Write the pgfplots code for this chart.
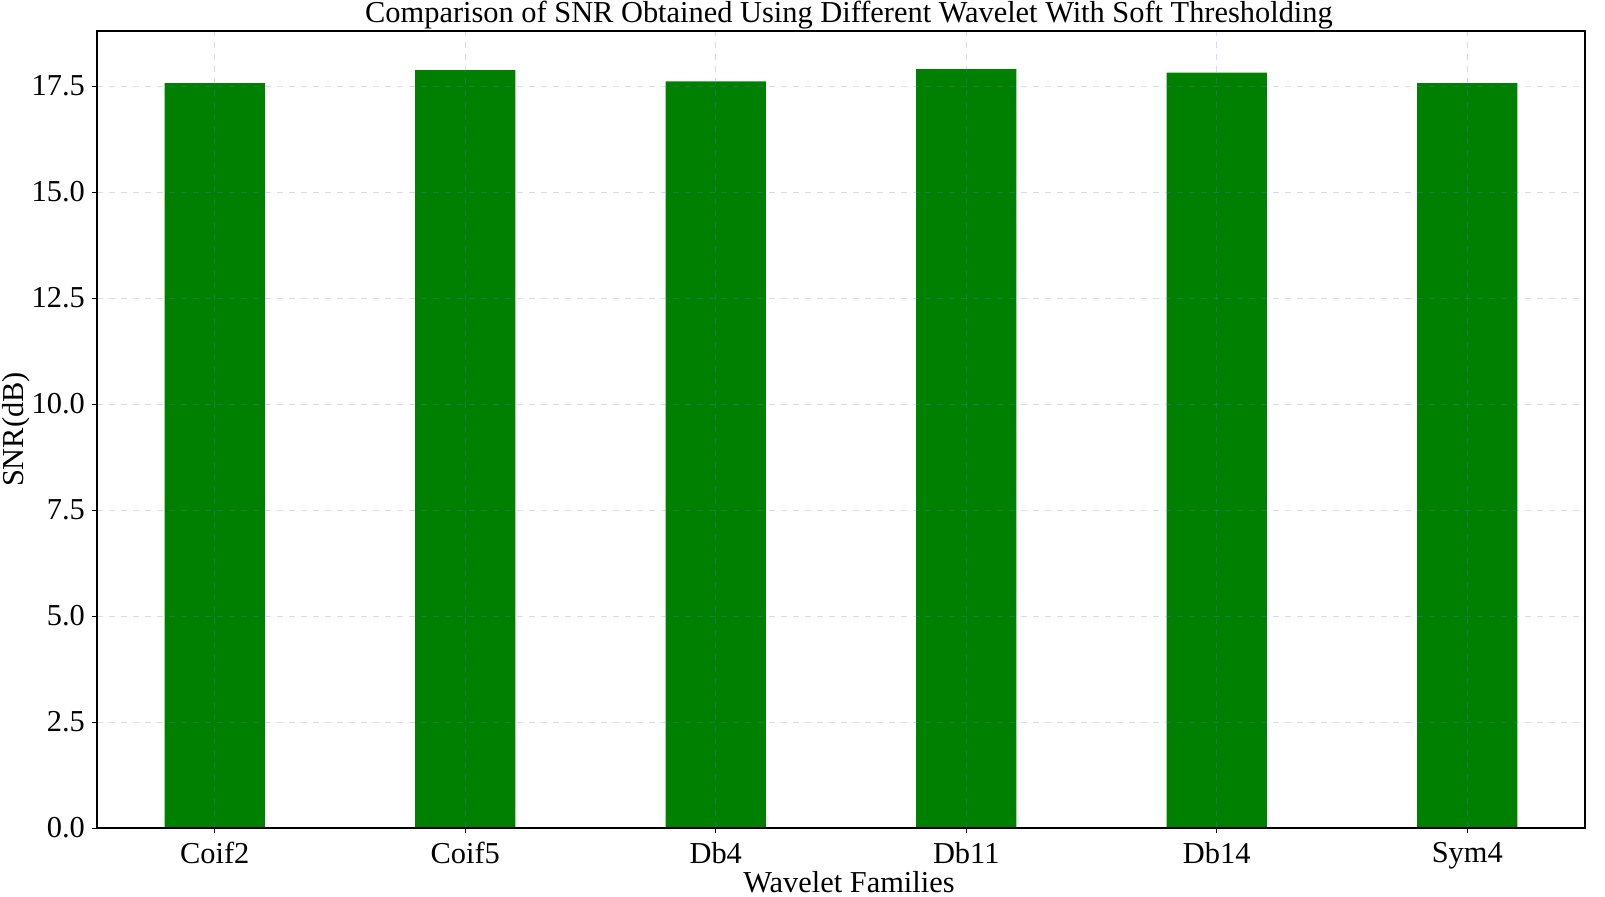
\documentclass[border=0pt]{standalone}
\usepackage{pgfplots}
\pgfplotsset{compat=1.18}
\usepackage{fontspec}
\setmainfont{Liberation Serif}
\definecolor{mplgreen}{RGB}{0,128,0}
\definecolor{gridc}{RGB}{110,110,255}
\begin{document}
\begin{tikzpicture}
\begin{axis}[
  at={(0,0)}, anchor=south west,
  scale only axis, width=744pt, height=398.5pt,
  xmin=-0.47, xmax=5.47, ymin=0, ymax=18.8,
  xtick={0,1,2,3,4,5},
  xticklabels={Coif2,Coif5,Db4,Db11,Db14,Sym4},
  ytick={0,2.5,5,7.5,10,12.5,15,17.5},
  yticklabel style={/pgf/number format/.cd,fixed,fixed zerofill,precision=1},
  /pgf/number format/assume math mode=true,
  ticklabel style={font=\fontsize{15.2}{17}\selectfont},
  tick align=outside, major tick length=2.5pt,
  xtick pos=bottom, ytick pos=left,
  tick style={black, line width=0.5pt},
  axis line style={line width=0.6pt},
  grid=major,
  major grid style={dashed, color=gridc, opacity=0.28, line width=0.5pt},
  axis on top,
  title={Comparison of SNR Obtained Using Different Wavelet With Soft Thresholding},
  title style={font=\fontsize{15.2}{17}\selectfont, at={(rel axis cs:0.5,1)}, anchor=base, yshift=-1.5pt, xshift=4pt},
  xlabel={Wavelet Families},
  ylabel={SNR(dB)},
  label style={font=\fontsize{15.2}{17}\selectfont},
  xlabel style={at={(rel axis cs:0.5,0)}, anchor=base, yshift=-32pt, xshift=4pt},
  ylabel style={at={(axis description cs:-0.054,0.5)}, anchor=center},
  xticklabel style={yshift=-1pt},
]
\addplot[ybar, bar width=0.4, fill=mplgreen, draw=none] coordinates {
(0,17.57) (1,17.88) (2,17.61) (3,17.90) (4,17.82) (5,17.57)};
\end{axis}
\pgfresetboundingbox
\path[use as bounding box] (-48.5pt,-34pt) rectangle (754pt,414pt);
\end{tikzpicture}
\end{document}
